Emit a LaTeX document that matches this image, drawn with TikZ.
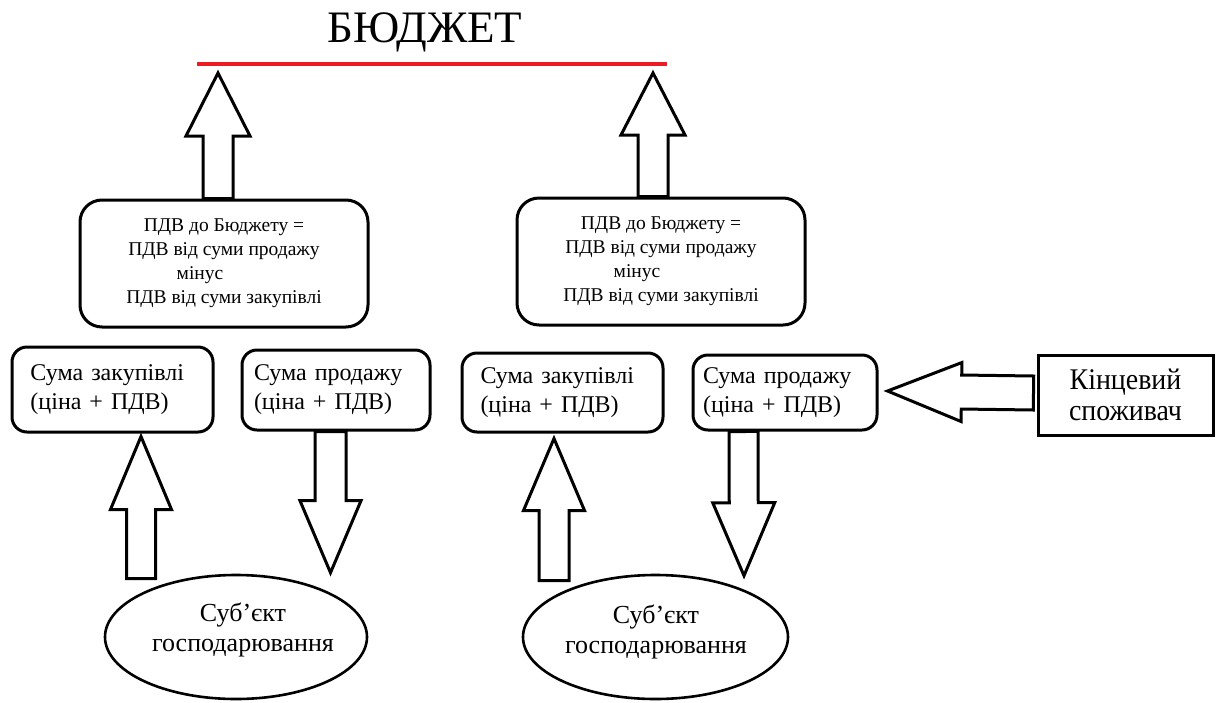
\documentclass[tikz,border=0pt]{standalone}
\usepackage{fontspec}
\setmainfont{Liberation Serif}
\newfontfamily\condfont[FakeStretch=0.93]{Liberation Serif}
\usetikzlibrary{calc,shapes.geometric}
\definecolor{budgetred}{RGB}{237,28,36}
\tikzset{
  outline/.style={draw=black, line width=3pt},
  topbox/.style={outline, rounded corners=22pt, minimum width=288pt, minimum height=127pt,
    align=center, inner sep=0pt, font=\fontsize{19.5}{24}\selectfont},
  midbox/.style={outline, rounded corners=15pt, text width=164pt, align=left,
    inner ysep=0pt, font=\fontsize{24}{29}\selectfont},
  consbox/.style={outline, minimum width=175pt, minimum height=80pt, align=center,
    inner sep=0pt, font=\condfont\fontsize{30}{31}\selectfont},
  ellbox/.style={draw=black, line width=2.6pt, ellipse, inner sep=0pt, minimum height=124pt},
  elltext/.style={align=center, inner sep=0pt, font=\fontsize{26}{30}\selectfont},
  titletext/.style={inner sep=0pt, font=\fontsize{45}{50}\selectfont},
  redrule/.style={draw=budgetred, line width=3.5pt},
  arrowline/.style={draw=black, fill=white, line width=3pt, line join=miter}
}
\newcommand\blockarr[5]{%
  \coordinate (ba-h) at ($(#2)!#5!(#1)$);
  \draw[arrowline] ($(#1)!#3!90:(#2)$) -- ($(ba-h)!#3!90:(#2)$) -- ($(ba-h)!#4!90:(#2)$)
    -- (#2) -- ($(ba-h)!#4!-90:(#2)$) -- ($(ba-h)!#3!-90:(#2)$) -- ($(#1)!#3!-90:(#2)$) -- cycle;
}
\begin{document}
\begin{tikzpicture}[x=1pt,y=-1pt]
\useasboundingbox (0,0) rectangle (1221,702);
\fill[white] (0,0) rectangle (1221,702);

% title and red rule
\node[titletext, anchor=base] (title) at (425,42) {БЮДЖЕТ};
\coordinate (redL) at (197,64);
\coordinate (redR) at (667,64);
\draw[redrule] (redL) -- (redR);

% top boxes
\node[topbox] (topL) at (224,263.5) {ПДВ до Бюджету =\\ ПДВ від суми продажу\\ мінус\hspace*{48pt}\mbox{}\\ ПДВ від суми закупівлі};
\node[topbox] (topR) at (661,261.5) {ПДВ до Бюджету =\\ ПДВ від суми продажу\\ мінус\hspace*{48pt}\mbox{}\\ ПДВ від суми закупівлі};

% middle boxes
\node[midbox, inner xsep=18.5pt, minimum height=85pt] (zakL) at (112.5,389.5) {Сума закупівлі\\(ціна + ПДВ)};
\node[midbox, inner xsep=12pt, minimum height=80pt] (prodL) at (336,390) {Сума продажу\\(ціна + ПДВ)};
\node[midbox, inner xsep=18.5pt, minimum height=79pt] (zakR) at (562.5,392.5) {Сума закупівлі\\(ціна + ПДВ)};
\node[midbox, inner xsep=10pt, minimum height=75pt] (prodR) at (785,392.5) {Сума продажу\\(ціна + ПДВ)};
\node[consbox] (cons) at (1125.5,395) {Кінцевий\\споживач};

% ellipses
\node[ellbox, minimum width=262pt] (ellL) at (236,637) {};
\node[elltext] (ellLtext) at (243,630) {Суб’єкт\\господарювання};
\node[ellbox, minimum width=265pt] (ellR) at (655.5,637) {};
\node[elltext] (ellRtext) at (656,632) {Суб’єкт\\господарювання};

% arrow end points
\coordinate (a1s) at ($(topL.north)+(-6,0)$);
\coordinate (a1t) at ($(redL)+(21,9)$);
\coordinate (a2s) at ($(topR.north)+(-8,0)$);
\coordinate (a2t) at ($(redL)+(456,9)$);
\coordinate (a3s) at ($(ellL.north)+(-95,5)$);
\coordinate (a3t) at ($(zakL.south)+(28.5,3)$);
\coordinate (a4s) at ($(prodL.south)+(-5.5,0)$);
\coordinate (a4t) at ($(ellL.north)+(94.5,-1)$);
\coordinate (a5s) at ($(ellR.north)+(-101.5,7)$);
\coordinate (a5t) at ($(zakR.south)+(-8.5,5)$);
\coordinate (a6s) at ($(prodR.south)+(-41.5,0)$);
\coordinate (a6t) at ($(ellR.north)+(88.5,2)$);
\coordinate (a7s) at ($(cons.west)+(-3,-2)$);
\coordinate (a7t) at ($(prodR.east)+(9,-1.5)$);

\blockarr{a1s}{a1t}{15pt}{32pt}{63pt}
\blockarr{a2s}{a2t}{15pt}{32pt}{62pt}
\blockarr{a3s}{a3t}{14.5pt}{30.5pt}{73pt}
\blockarr{a4s}{a4t}{15.5pt}{30.5pt}{72pt}
\blockarr{a5s}{a5t}{15pt}{30.5pt}{72pt}
\blockarr{a6s}{a6t}{14.5pt}{31pt}{73pt}
\blockarr{a7s}{a7t}{17pt}{29.5pt}{74pt}
\end{tikzpicture}
\end{document}
